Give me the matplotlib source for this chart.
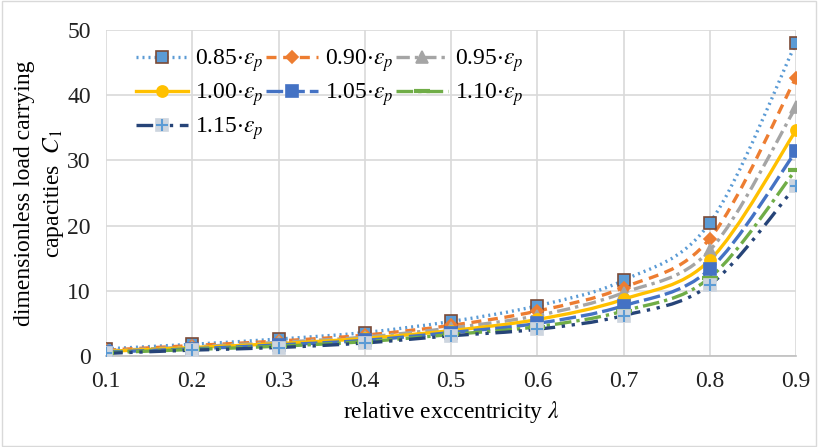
import numpy as np
import matplotlib.pyplot as plt
from matplotlib.path import Path
from matplotlib.patches import PathPatch, Rectangle
from matplotlib.lines import Line2D

plt.rcParams['font.family'] = 'Liberation Serif'
plt.rcParams['mathtext.fontset'] = 'stix'

lam = [0.1, 0.2, 0.3, 0.4, 0.5, 0.6, 0.7, 0.8, 0.9]
factors = ['0.85', '0.90', '0.95', '1.00', '1.05', '1.10', '1.15']

c085 = [1.1, 1.8, 2.6, 3.6, 5.3, 7.7, 11.6, 20.4, 48.0]
c090 = [0.9, 1.6, 2.3, 3.2, 4.7, 6.9, 10.5, 18.0, 42.7]
c095 = [0.8, 1.4, 2.1, 2.9, 4.3, 6.2, 9.7, 16.2, 38.2]
c100 = [0.7, 1.3, 1.9, 2.7, 3.9, 5.6, 8.7, 14.7, 34.6]
c105 = [0.6, 1.1, 1.7, 2.4, 3.6, 5.0, 7.7, 13.3, 31.4]
c110 = [0.5, 1.0, 1.5, 2.2, 3.3, 4.5, 6.9, 12.0, 28.6]
c115 = [0.4, 0.9, 1.3, 2.0, 3.1, 4.1, 6.2, 10.9, 26.1]
series = [c085, c090, c095, c100, c105, c110, c115]

colors = ['#5B9BD5', '#ED7D31', '#A5A5A5', '#FFC000', '#4472C4', '#70AD47', '#264478']
dashes = [(0, (0.6, 1.2)), (0, (3, 2)), (0, (4, 1.5, 1, 1.5)), 'solid',
          (0, (5, 1.5)), (0, (5, 1.5, 1, 1.5)), (0, (5, 2, 1, 2, 1, 2))]
markers = ['s', 'D', '^', 'o', 's', '_', 's']
mfc = ['#5B9BD5', '#ED7D31', '#A5A5A5', '#FFC000', '#4472C4', '#70AD47', '#CDD5DF']
mec = ['#7B4A36', '#ED7D31', '#A5A5A5', '#FFC000', '#4472C4', '#70AD47', '#CDD5DF']
msize = [8, 6, 8, 8, 8, 11, 8]


def smooth_path(x, y):
    # bezier segments through the points (excel-like smoothing)
    pts = np.column_stack([x, y])
    n = len(pts)
    verts = [pts[0]]
    codes = [Path.MOVETO]
    for i in range(n - 1):
        p0 = pts[max(i - 1, 0)]
        p1 = pts[i]
        p2 = pts[i + 1]
        p3 = pts[min(i + 2, n - 1)]
        verts += [p1 + (p2 - p0) / 6, p2 - (p3 - p1) / 6, p2]
        codes += [Path.CURVE4] * 3
    return Path(verts, codes)


fig = plt.figure(figsize=(8.18, 4.47), dpi=100)
ax = fig.add_axes([106 / 818, 1 - 356 / 447, 690 / 818, 326 / 447])

handles = []
for i, ys in enumerate(series):
    patch = PathPatch(smooth_path(lam, ys), fill=False, edgecolor=colors[i],
                      linewidth=2.4, linestyle=dashes[i], zorder=3)
    ax.add_patch(patch)
    mew = 3 if markers[i] == '_' else 1.2
    ax.plot(lam, ys, linestyle='none', marker=markers[i], markersize=msize[i],
            markerfacecolor=mfc[i], markeredgecolor=mec[i], markeredgewidth=mew, zorder=4)
    h = Line2D([], [], color=colors[i], linewidth=2.4, linestyle=dashes[i],
               marker=markers[i], markersize=msize[i], markerfacecolor=mfc[i],
               markeredgecolor=mec[i], markeredgewidth=mew)
    if i == 6:
        ax.plot(lam, ys, linestyle='none', marker='+', markersize=9,
                markeredgecolor='#5B9BD5', markeredgewidth=1.5, zorder=5)
        h = (h, Line2D([], [], linestyle='none', marker='+', markersize=9,
                       markeredgecolor='#5B9BD5', markeredgewidth=1.5))
    handles.append(h)

labels = [f + r'$\cdot\varepsilon_p$' for f in factors]
order = [0, 3, 6, 1, 4, 2, 5]
ax.legend([handles[k] for k in order], [labels[k] for k in order],
          loc='upper left', ncol=3, frameon=False, fontsize=17,
          handlelength=2.2, handletextpad=0.3, columnspacing=0.1, labelspacing=0.3,
          bbox_to_anchor=(0.03, 0.975), borderaxespad=0)

ax.set_xlim(0.1, 0.9)
ax.set_ylim(0, 50)
ax.set_xticks(lam)
ax.set_xticklabels([f'{v:.1f}' for v in lam])
ax.set_yticks([0, 10, 20, 30, 40, 50])
ax.grid(True, color='#D9D9D9', linewidth=1.2)
ax.set_axisbelow(True)
for s in ['top', 'right', 'left']:
    ax.spines[s].set_visible(False)
ax.spines['bottom'].set_color('#BFBFBF')
ax.spines['bottom'].set_linewidth(1.2)
ax.tick_params(length=0, labelsize=17, colors='#222222', pad=11)

ax.set_xlabel(r'relative exccentricity $\lambda$', fontsize=17, labelpad=5)
ax.set_ylabel('dimensionless load carrying\ncapacities  $C_1$', fontsize=17,
              labelpad=1, linespacing=1.3)

fig.patches.append(Rectangle((0.003, 0.003), 0.994, 0.994, transform=fig.transFigure,
                             fill=False, edgecolor='#D9D9D9', linewidth=1))

fig.savefig('out.png', dpi=100)
